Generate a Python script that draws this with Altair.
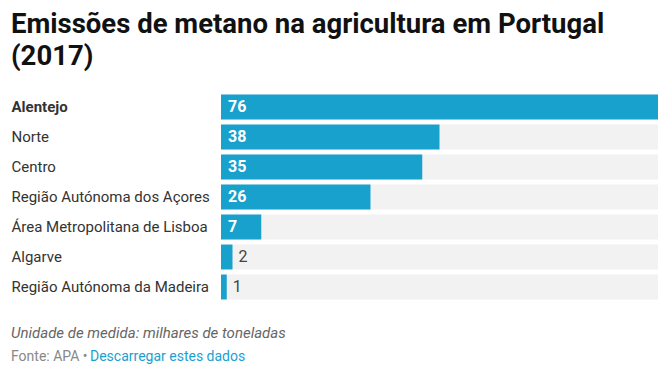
import altair as alt
import pandas as pd

regions = ["Alentejo", "Norte", "Centro", "Região Autónoma dos Açores",
           "Área Metropolitana de Lisboa", "Algarve", "Região Autónoma da Madeira"]
values = [76, 38, 35, 26, 7, 2, 1]
max_value = 76

df = pd.DataFrame({"region": regions, "value": values, "full": [max_value] * len(regions)})

BLUE = "#18a1cd"
GREY = "#f2f2f2"
FONT = "Roboto"

y_enc = alt.Y("region:N", sort=regions, title=None,
              scale=alt.Scale(paddingInner=0.17, paddingOuter=0.085),
              axis=alt.Axis(domain=False, ticks=False, labelAlign="left", labelPadding=210,
                            labelFont=FONT, labelFontSize=15, labelColor="#333333",
                            labelFontWeight=alt.expr("datum.value == 'Alentejo' ? 'bold' : 'normal'"),
                            labelLimit=300))
x_scale = alt.Scale(domain=[0, max_value], nice=False, zero=True)

base = alt.Chart(df)

bg = base.mark_bar(color=GREY, cornerRadius=0).encode(
    x=alt.X("full:Q", scale=x_scale, axis=None, title=None),
    y=y_enc,
)
bars = base.mark_bar(color=BLUE).encode(
    x=alt.X("value:Q", scale=x_scale, axis=None),
    y=alt.Y("region:N", sort=regions),
)
inside = base.transform_filter("datum.value >= 5").transform_calculate(lx="0").mark_text(
    align="left", baseline="middle", dx=7, font=FONT, fontSize=16, fontWeight="bold", color="white"
).encode(
    x=alt.X("lx:Q", scale=x_scale),
    y=alt.Y("region:N", sort=regions),
    text="value:Q",
)
outside = base.transform_filter("datum.value < 5").mark_text(
    align="left", baseline="middle", dx=6, font=FONT, fontSize=16, color="#444444"
).encode(
    x=alt.X("value:Q", scale=x_scale),
    y=alt.Y("region:N", sort=regions),
    text="value:Q",
)

note_df = pd.DataFrame({"t": ["Unidade de medida: milhares de toneladas"]})
src_df = pd.DataFrame({"t": ["Fonte: APA •"]})
link_df = pd.DataFrame({"t": ["Descarregar estes dados"]})

note = alt.Chart(note_df).mark_text(
    align="left", baseline="middle", font=FONT, fontSize=15, fontStyle="italic", color="#666666"
).encode(x=alt.value(-210), y=alt.value(241), text="t:N")
src = alt.Chart(src_df).mark_text(
    align="left", baseline="middle", font=FONT, fontSize=14, color="#888888"
).encode(x=alt.value(-210), y=alt.value(265), text="t:N")
link = alt.Chart(link_df).mark_text(
    align="left", baseline="middle", font=FONT, fontSize=14, color="#1a9fd0"
).encode(x=alt.value(-131), y=alt.value(265), text="t:N")

chart = alt.layer(bg, bars, inside, outside, note, src, link).properties(
    width=437, height=210,
    padding={"left": 3, "top": 2, "right": 3, "bottom": 5},
    title=alt.Title(["Emissões de metano na agricultura em Portugal", "(2017)"],
                    anchor="start", frame="bounds", font=FONT, fontSize=27.5, fontWeight="bold",
                    color="#111111", lineHeight=32, offset=22),
).configure_view(stroke=None)

chart.save("out.html", embed_options={"renderer": "svg", "actions": False})
